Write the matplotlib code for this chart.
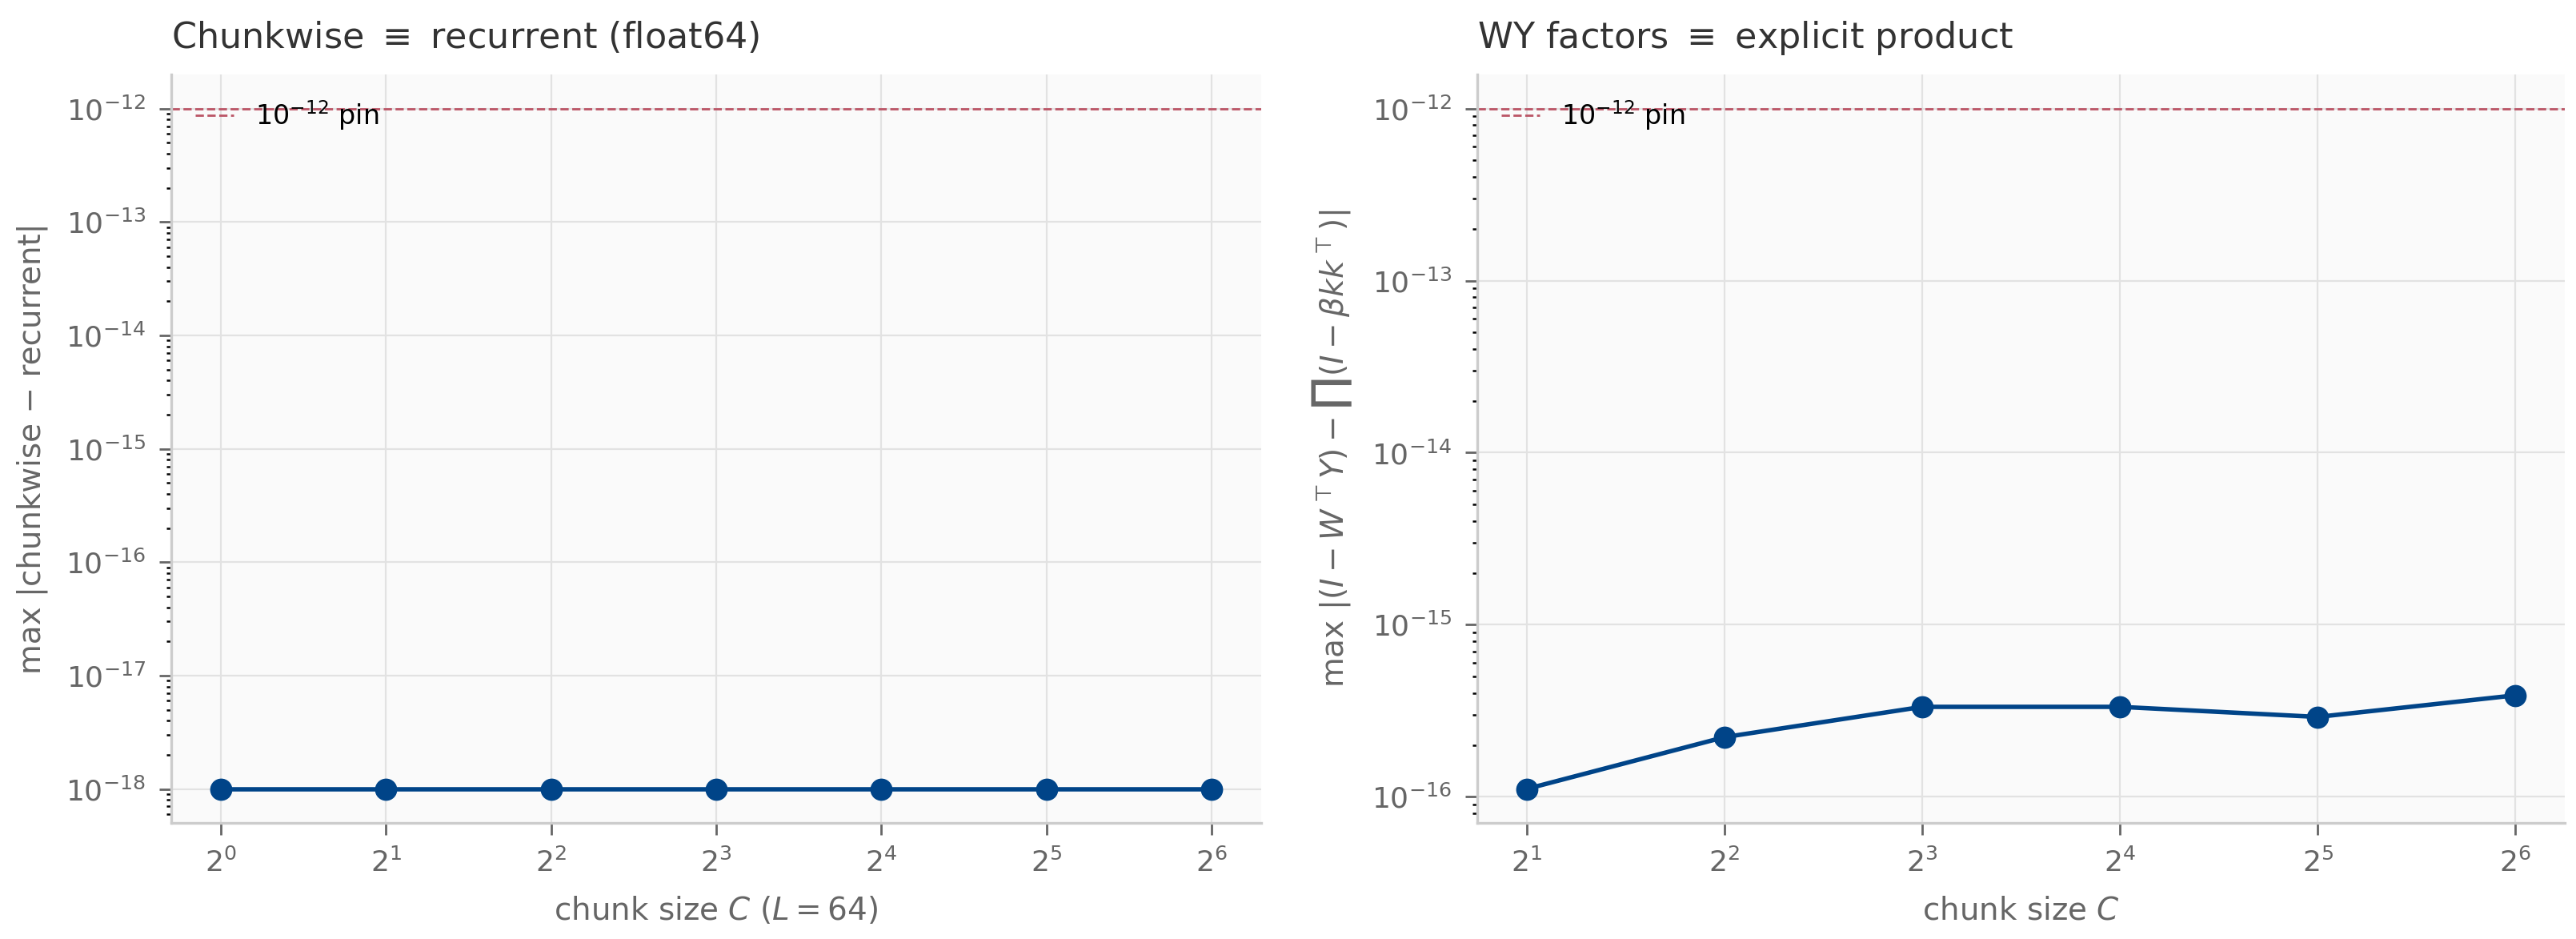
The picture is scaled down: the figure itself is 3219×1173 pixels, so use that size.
import matplotlib
matplotlib.use('Agg')
import matplotlib.pyplot as plt

# chunk sizes and max abs errors
chunk_left = [1, 2, 4, 8, 16, 32, 64]
err_left = [1e-18, 1e-18, 1e-18, 1e-18, 1e-18, 1e-18, 1e-18]

chunk_right = [2, 4, 8, 16, 32, 64]
err_right = [1.11e-16, 2.22e-16, 3.33e-16, 3.33e-16, 2.91e-16, 3.886e-16]

pin = 1e-12

navy = '#004488'
red = '#BB5566'

fig = plt.figure(figsize=(16.095, 5.865), dpi=200)
ax1 = fig.add_axes([0.0665, 0.1236, 0.4231, 0.797])
ax2 = fig.add_axes([0.5735, 0.1236, 0.4222, 0.797])

panels = [
    (ax1, chunk_left, err_left, r'Chunkwise $\equiv$ recurrent (float64)',
     r'chunk size $C$ ($L=64$)', 'max |chunkwise \u2212 recurrent|'),
    (ax2, chunk_right, err_right, r'WY factors $\equiv$ explicit product',
     r'chunk size $C$', r'max $|(I - W^\top Y) - \prod(I - \beta k k^\top)|$'),
]

for ax, x, y, title, xlabel, ylabel in panels:
    ax.set_facecolor('#fafafa')
    ax.axhline(pin, color=red, linestyle='--', linewidth=1.0, label=r'$10^{-12}$ pin')
    ax.plot(x, y, color=navy, linewidth=2, marker='o', markersize=9)
    ax.set_xscale('log', base=2)
    ax.set_yscale('log')
    ax.set_xticks(x)
    ax.grid(True, color='#e2e2e2', linewidth=0.8)
    ax.set_axisbelow(True)
    for s in ['top', 'right']:
        ax.spines[s].set_visible(False)
    for s in ['left', 'bottom']:
        ax.spines[s].set_color('#cccccc')
        ax.spines[s].set_linewidth(1.2)
    ax.tick_params(colors='#666666', labelsize=13, length=5.5, width=1, pad=6)
    ax.tick_params(axis='y', which='minor', length=2.2, width=0.9)
    ax.set_title(title, loc='left', fontsize=16, color='#333333', pad=12)
    ax.set_xlabel(xlabel, fontsize=14, color='#666666', labelpad=8)
    ax.set_ylabel(ylabel, fontsize=14, color='#666666', labelpad=8)
    ax.legend(loc='upper left', frameon=False, fontsize=12, handlelength=1.45)

fig.savefig('out.png', dpi=200)
